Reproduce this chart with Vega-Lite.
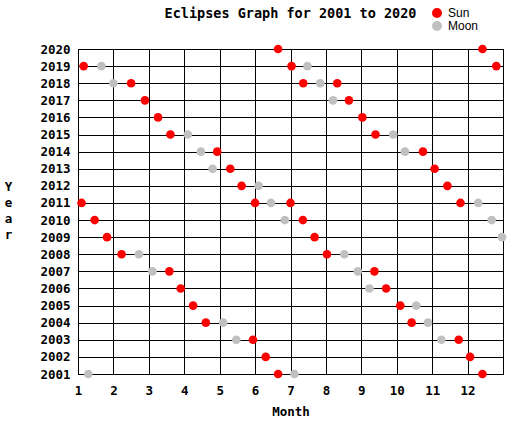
{
  "$schema": "https://vega.github.io/schema/vega-lite/v6.json",
  "width": 425,
  "height": 325,
  "autosize": {"type": "none"},
  "padding": {"left": 78, "top": 49, "right": 21, "bottom": 48},
  "background": "white",
  "config": {
    "view": {"stroke": "black", "strokeWidth": 1},
    "font": "DejaVu Sans Mono"
  },
  "title": {
    "text": "Eclipses Graph for 2001 to 2020",
    "font": "DejaVu Sans Mono",
    "fontSize": 13.5,
    "fontWeight": "bold",
    "color": "black",
    "anchor": "middle",
    "offset": -13
  },
  "data": {
    "values": [
      {"year": 2001, "month": 1.29, "type": "Moon"},
      {"year": 2001, "month": 6.65, "type": "Sun"},
      {"year": 2001, "month": 7.11, "type": "Moon"},
      {"year": 2001, "month": 12.42, "type": "Sun"},
      {"year": 2002, "month": 6.3, "type": "Sun"},
      {"year": 2002, "month": 12.07, "type": "Sun"},
      {"year": 2003, "month": 5.47, "type": "Moon"},
      {"year": 2003, "month": 5.94, "type": "Sun"},
      {"year": 2003, "month": 11.26, "type": "Moon"},
      {"year": 2003, "month": 11.75, "type": "Sun"},
      {"year": 2004, "month": 4.61, "type": "Sun"},
      {"year": 2004, "month": 5.1, "type": "Moon"},
      {"year": 2004, "month": 10.42, "type": "Sun"},
      {"year": 2004, "month": 10.88, "type": "Moon"},
      {"year": 2005, "month": 4.25, "type": "Sun"},
      {"year": 2005, "month": 10.1, "type": "Sun"},
      {"year": 2005, "month": 10.55, "type": "Moon"},
      {"year": 2006, "month": 3.9, "type": "Sun"},
      {"year": 2006, "month": 9.23, "type": "Moon"},
      {"year": 2006, "month": 9.7, "type": "Sun"},
      {"year": 2007, "month": 3.1, "type": "Moon"},
      {"year": 2007, "month": 3.58, "type": "Sun"},
      {"year": 2007, "month": 8.9, "type": "Moon"},
      {"year": 2007, "month": 9.37, "type": "Sun"},
      {"year": 2008, "month": 2.23, "type": "Sun"},
      {"year": 2008, "month": 2.72, "type": "Moon"},
      {"year": 2008, "month": 8.03, "type": "Sun"},
      {"year": 2008, "month": 8.52, "type": "Moon"},
      {"year": 2009, "month": 1.82, "type": "Sun"},
      {"year": 2009, "month": 7.68, "type": "Sun"},
      {"year": 2009, "month": 12.97, "type": "Moon"},
      {"year": 2010, "month": 1.47, "type": "Sun"},
      {"year": 2010, "month": 6.84, "type": "Moon"},
      {"year": 2010, "month": 7.35, "type": "Sun"},
      {"year": 2010, "month": 12.68, "type": "Moon"},
      {"year": 2011, "month": 1.1, "type": "Sun"},
      {"year": 2011, "month": 6.0, "type": "Sun"},
      {"year": 2011, "month": 6.45, "type": "Moon"},
      {"year": 2011, "month": 7.0, "type": "Sun"},
      {"year": 2011, "month": 11.8, "type": "Sun"},
      {"year": 2011, "month": 12.3, "type": "Moon"},
      {"year": 2012, "month": 5.62, "type": "Sun"},
      {"year": 2012, "month": 6.1, "type": "Moon"},
      {"year": 2012, "month": 11.43, "type": "Sun"},
      {"year": 2013, "month": 4.8, "type": "Moon"},
      {"year": 2013, "month": 5.3, "type": "Sun"},
      {"year": 2013, "month": 11.07, "type": "Sun"},
      {"year": 2014, "month": 4.47, "type": "Moon"},
      {"year": 2014, "month": 4.93, "type": "Sun"},
      {"year": 2014, "month": 10.23, "type": "Moon"},
      {"year": 2014, "month": 10.74, "type": "Sun"},
      {"year": 2015, "month": 3.61, "type": "Sun"},
      {"year": 2015, "month": 4.1, "type": "Moon"},
      {"year": 2015, "month": 9.4, "type": "Sun"},
      {"year": 2015, "month": 9.9, "type": "Moon"},
      {"year": 2016, "month": 3.26, "type": "Sun"},
      {"year": 2016, "month": 9.03, "type": "Sun"},
      {"year": 2017, "month": 2.89, "type": "Sun"},
      {"year": 2017, "month": 8.2, "type": "Moon"},
      {"year": 2017, "month": 8.65, "type": "Sun"},
      {"year": 2018, "month": 2.0, "type": "Moon"},
      {"year": 2018, "month": 2.5, "type": "Sun"},
      {"year": 2018, "month": 7.36, "type": "Sun"},
      {"year": 2018, "month": 7.84, "type": "Moon"},
      {"year": 2018, "month": 8.32, "type": "Sun"},
      {"year": 2019, "month": 1.16, "type": "Sun"},
      {"year": 2019, "month": 1.66, "type": "Moon"},
      {"year": 2019, "month": 7.03, "type": "Sun"},
      {"year": 2019, "month": 7.48, "type": "Moon"},
      {"year": 2019, "month": 12.81, "type": "Sun"},
      {"year": 2020, "month": 6.65, "type": "Sun"},
      {"year": 2020, "month": 12.42, "type": "Sun"}
    ]
  },
  "mark": {"type": "circle", "size": 75, "opacity": 1, "clip": false},
  "encoding": {
    "x": {
      "field": "month",
      "type": "quantitative",
      "scale": {"domain": [1, 13], "nice": false, "zero": false},
      "axis": {
        "values": [1, 2, 3, 4, 5, 6, 7, 8, 9, 10, 11, 12, 13],
        "labelExpr": "datum.value == 13 ? '' : datum.label",
        "format": "d",
        "title": "Month",
        "grid": true,
        "gridColor": "black",
        "gridOpacity": 1,
        "gridWidth": 1,
        "domainColor": "black",
        "ticks": false,
        "labelPadding": 10,
        "labelFont": "DejaVu Sans Mono",
        "labelFontSize": 12.5,
        "labelFontWeight": "bold",
        "labelColor": "black",
        "labelFlush": false,
        "labelOverlap": false,
        "titleFont": "DejaVu Sans Mono",
        "titleFontSize": 12.5,
        "titleFontWeight": "bold",
        "titleColor": "black",
        "titleY": 37,
        "titleBaseline": "middle"
      }
    },
    "y": {
      "field": "year",
      "type": "quantitative",
      "scale": {"domain": [2001, 2020], "nice": false, "zero": false},
      "axis": {
        "values": [2001, 2002, 2003, 2004, 2005, 2006, 2007, 2008, 2009, 2010, 2011, 2012, 2013, 2014, 2015, 2016, 2017, 2018, 2019, 2020],
        "format": "d",
        "title": ["Y", "e", "a", "r"],
        "titleAngle": 0,
        "titleAlign": "center",
        "titleBaseline": "top",
        "titleX": -70,
        "titleY": 131,
        "titleLineHeight": 16,
        "grid": true,
        "gridColor": "black",
        "gridOpacity": 1,
        "gridWidth": 1,
        "domainColor": "black",
        "ticks": false,
        "labelPadding": 8,
        "labelFont": "DejaVu Sans Mono",
        "labelFontSize": 12.5,
        "labelFontWeight": "bold",
        "labelColor": "black",
        "labelFlush": false,
        "labelOverlap": false,
        "titleFont": "DejaVu Sans Mono",
        "titleFontSize": 12.5,
        "titleFontWeight": "bold",
        "titleColor": "black"
      }
    },
    "color": {
      "field": "type",
      "type": "nominal",
      "scale": {"domain": ["Sun", "Moon"], "range": ["#ff0000", "#c0c0c0"]},
      "legend": {
        "title": null,
        "orient": "none",
        "legendX": 353,
        "legendY": -42,
        "symbolType": "circle",
        "symbolSize": 100,
        "symbolOpacity": 1,
        "symbolStrokeWidth": 0,
        "labelFont": "Liberation Sans",
        "labelFontSize": 12,
        "labelColor": "black",
        "rowPadding": 1,
        "labelOffset": 5
      }
    }
  }
}
